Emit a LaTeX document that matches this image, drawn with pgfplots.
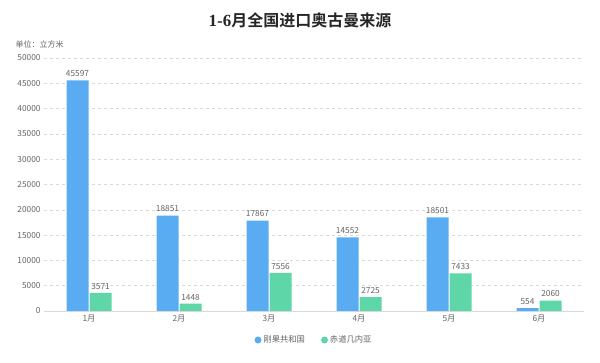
\documentclass[border=0pt]{standalone}
\usepackage{pgfplots}
\pgfplotsset{compat=1.18}
\usepackage{fontspec}
\setmainfont{Noto Sans CJK SC}
\newfontfamily\titlefont{Noto Sans CJK SC Bold}
\newfontfamily\serifb{Liberation Serif Bold}
\definecolor{cblue}{RGB}{90,172,242}
\definecolor{cgreen}{RGB}{94,214,168}
\definecolor{tgray}{RGB}{100,100,100}
\begin{document}
\begin{tikzpicture}[x=1pt,y=1pt]
\path[use as bounding box] (0,0) rectangle (600,363);
\node[font=\titlefont\fontsize{16}{18}\selectfont, text=black!85] at (300,343) {{\serifb\fontsize{17}{18}\selectfont 1-6}月全国进口奥古曼来源};
\node[font=\fontsize{8}{9}\selectfont, text=tgray, anchor=west] at (12,319) {单位：立方米};
\begin{axis}[
  at={(44pt,52pt)}, anchor=south west,
  scale only axis, width=540pt, height=253pt,
  ybar=1pt, bar width=22pt,
  xmin=-0.5, xmax=5.5, ymin=0, ymax=50000,
  xtick={0,1,2,3,4,5},
  xticklabels={1月,2月,3月,4月,5月,6月},
  ytick={0,5000,...,50000},
  /pgf/number format/assume math mode=true,
  scaled y ticks=false,
  yticklabel style={/pgf/number format/fixed, /pgf/number format/1000 sep={}, font=\fontsize{8.3}{9}\selectfont, text=tgray},
  xticklabel style={font=\fontsize{8.3}{9}\selectfont, text=tgray},
  axis x line*=bottom, axis y line*=left,
  x axis line style={draw=black!15, line width=0.8pt, -},
  y axis line style={draw=none},
  ymajorgrids, grid style={dash pattern=on 3pt off 3pt, draw=black!15},
  major tick length=0pt,
  xtick style={draw=none}, ytick style={draw=none},
  nodes near coords,
  nodes near coords style={font=\fontsize{8.3}{9}\selectfont, text=tgray, /pgf/number format/fixed, /pgf/number format/1000 sep={}},
  legend style={at={(0.5,-0.1146)}, anchor=center, draw=none, fill=none, legend columns=2, font=\fontsize{8.3}{9}\selectfont, text=tgray, /tikz/every even column/.append style={column sep=14pt}},
  legend cell align=left,
]
\addplot[fill=cblue, draw=none, legend image code/.code={\fill[cblue] (0.15cm,0) circle (3.5pt);}] coordinates {(0,45597) (1,18851) (2,17867) (3,14552) (4,18501) (5,554)};
\addplot[fill=cgreen, draw=none, legend image code/.code={\fill[cgreen] (0.15cm,0) circle (3.5pt);}] coordinates {(0,3571) (1,1448) (2,7556) (3,2725) (4,7433) (5,2060)};
\legend{刚果共和国,赤道几内亚}
\end{axis}
\end{tikzpicture}
\end{document}
